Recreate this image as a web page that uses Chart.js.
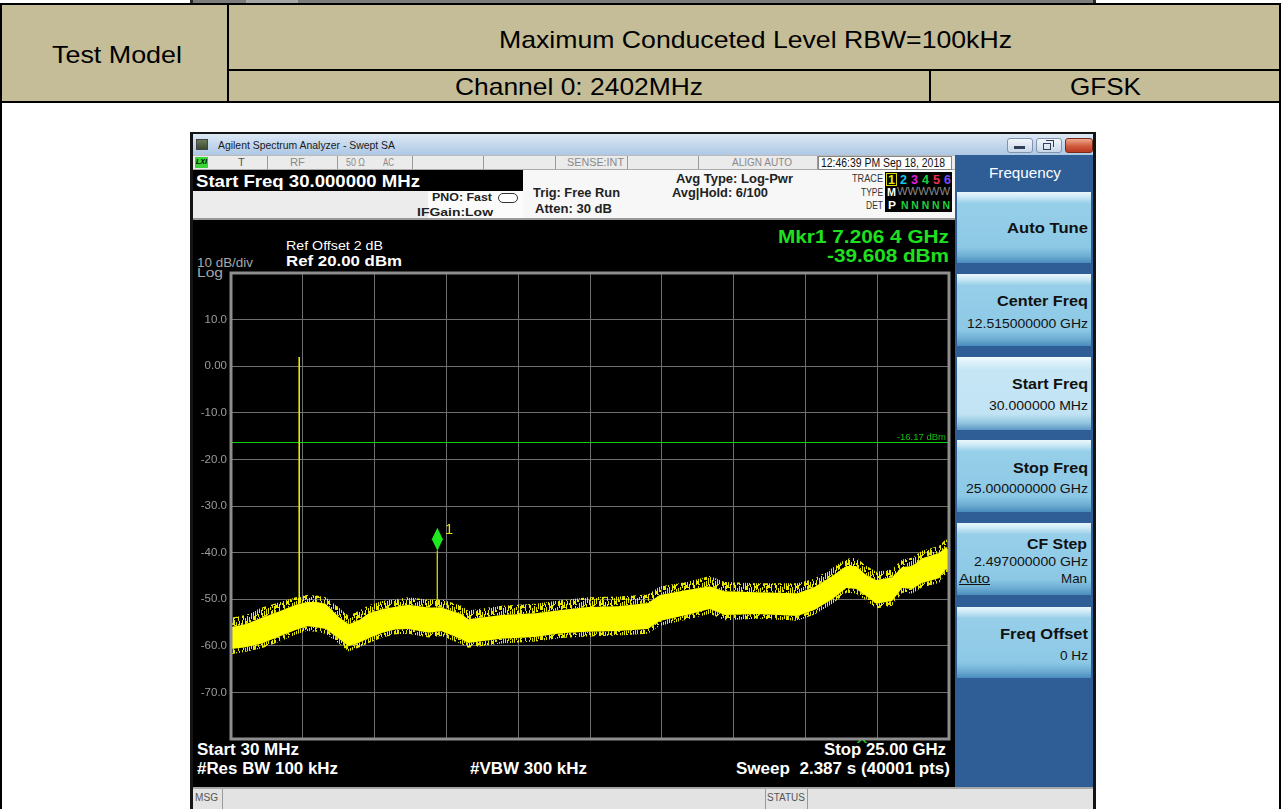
<!DOCTYPE html>
<html><head><meta charset="utf-8">
<script src="https://cdn.jsdelivr.net/npm/chart.js@4.4.1/dist/chart.umd.min.js"></script>
<style>
html,body{margin:0;padding:0;background:#fff;width:1281px;height:809px;overflow:hidden;font-family:"Liberation Sans",Arial,sans-serif;}
#page{position:relative;width:1281px;height:809px;overflow:hidden;}
.b{position:absolute;box-sizing:border-box;}
.t{position:absolute;white-space:pre;line-height:1;transform-origin:0 0;}
canvas{position:absolute;left:193px;top:220px;}
</style></head><body><div id="page"></div>
<canvas id="c" width="762" height="567" style="width:762px;height:567px"></canvas>
<script>
// ---------- DATA ----------
const startGHz = 0.03;
const stopGHz = 25.0;
const refLevelDbm = 20;
const bottomDbm = -80;
const dbPerDiv = 10;
const yTickLabels = ['', '10.0', '0.00', '-10.0', '-20.0', '-30.0', '-40.0', '-50.0', '-60.0', '-70.0', ''];
// noise-floor envelope of the yellow trace
const freqGHz = [0.03, 0.55, 1.10, 1.76, 2.28, 2.67, 3.00, 3.32, 3.78, 4.12, 4.50, 4.82, 5.30, 5.75, 6.20, 6.90, 7.35, 8.04, 8.28, 9.43, 10.61, 11.51, 12.45, 13.49, 14.53, 14.94, 15.88, 16.68, 17.20, 18.34, 19.73, 20.32, 20.94, 21.43, 21.77, 22.12, 22.47, 23.02, 23.37, 23.72, 24.06, 24.65, 24.90, 25.00];
// spike tops above the dense band
const peakDbm = [-54.0, -53.4, -51.8, -50.6, -49.6, -49.1, -49.2, -49.6, -51.8, -53.6, -52.4, -51.3, -50.4, -50.0, -49.6, -50.1, -50.0, -51.4, -52.4, -51.4, -51.0, -50.2, -49.6, -49.4, -49.0, -47.3, -46.3, -45.0, -46.3, -46.6, -46.6, -45.6, -43.3, -41.3, -41.1, -42.8, -44.1, -43.6, -41.5, -41.1, -39.6, -38.6, -37.1, -38.3];
// dense band top / bottom
const upperDbm = [-56.0, -55.3, -54.0, -52.5, -51.2, -50.6, -50.6, -51.0, -53.8, -55.4, -54.4, -53.0, -52.1, -51.6, -51.2, -51.8, -51.8, -53.2, -54.3, -53.4, -53.0, -52.3, -51.7, -51.5, -50.8, -49.1, -48.0, -47.2, -48.3, -48.5, -48.7, -47.4, -45.0, -42.9, -42.9, -44.8, -45.9, -45.3, -43.1, -42.9, -41.2, -40.1, -38.8, -39.7];
const lowerDbm = [-60.7, -60.3, -59.5, -57.9, -56.6, -55.8, -56.0, -56.4, -58.5, -60.1, -59.3, -58.4, -57.2, -56.5, -56.4, -57.2, -56.9, -58.6, -59.4, -58.5, -58.1, -57.3, -57.0, -56.8, -56.4, -54.7, -53.4, -52.1, -53.4, -53.2, -53.6, -52.3, -50.0, -47.6, -47.8, -49.3, -51.0, -50.4, -47.6, -47.8, -46.5, -45.5, -43.5, -44.4];
// spike bottoms below the dense band
const floorDbm = [-61.8, -61.3, -60.5, -59.0, -57.6, -56.8, -57.0, -57.4, -59.5, -61.2, -60.3, -59.4, -58.2, -57.5, -57.4, -58.2, -57.9, -59.6, -60.4, -59.5, -59.1, -58.3, -58.0, -57.8, -57.4, -55.7, -54.4, -53.1, -54.5, -54.2, -54.6, -53.3, -51.0, -48.6, -48.8, -50.3, -52.0, -51.4, -48.6, -48.8, -47.5, -46.5, -44.5, -45.4];
// carrier spike (channel 0)
const carrierGHz = [2.402, 2.402];
const carrierDbm = [2.0, -51.0];
// marker 1
const markerGHz = [7.2064, 7.2064];
const markerDbm = [-39.608, -51.5];
// display line
const limitDbm = -16.17;

// ---------- STATIC LAYOUT ----------
const page = document.getElementById('page');
function box(l, t, w, h, style) {
  const d = document.createElement('div');
  d.className = 'b';
  d.style.cssText = `left:${l}px;top:${t}px;width:${w}px;height:${h}px;` + (style || '');
  page.appendChild(d);
  return d;
}
const tan = '#c4bd97';
box(190, 0, 906, 4, 'background:#2a2a2a;');
box(193, 0, 900, 3, 'background:#7c7c7c;');
box(246, 0, 52, 3, 'background:#a6a6a6;');
box(0, 4, 1281, 99, 'background:' + tan + ';');
box(0, 3, 1281, 2, 'background:#000;');
box(228, 69, 1053, 2, 'background:#000;');
box(0, 101, 1281, 2, 'background:#000;');
box(227, 4, 2, 99, 'background:#000;');
box(929, 70, 2, 33, 'background:#000;');
box(0, 3, 2, 806, 'background:#000;');
box(1279, 3, 2, 806, 'background:#000;');

box(190, 132, 906, 677, 'background:#141414;');
box(193, 134, 900, 21, 'background:linear-gradient(#dde9f5,#c2d6ec 55%,#aec8e4);');
box(196, 139, 12, 11, 'background:linear-gradient(#6a7a5a,#3c4a30);border:1px solid #444;');
box(1007, 138, 26, 15, 'background:linear-gradient(#f2f6fb,#c9d7e8);border:1px solid #7f93ad;border-radius:3px;');
box(1014, 146, 11, 3, 'background:#2f3f55;');
box(1036, 138, 26, 15, 'background:linear-gradient(#f2f6fb,#c9d7e8);border:1px solid #7f93ad;border-radius:3px;');
box(1043, 143, 8, 7, 'border:1px solid #2f3f55;');
box(1046, 140, 8, 7, 'border:1px solid #2f3f55;border-bottom:none;border-left:none;');
box(1065, 138, 28, 15, 'background:linear-gradient(#eea88f,#d05a3c 55%,#b83a22);border:1px solid #7a2a18;border-radius:3px;');
box(193, 155, 762, 15, 'background:#ebebeb;border-top:1px solid #bbb;border-bottom:1px solid #aaa;');
[267, 337, 412, 483, 555, 627, 698, 817].forEach(x => box(x, 156, 1, 13, 'background:#9a9a9a;'));
box(818, 156, 134, 14, 'background:#fdfdfd;border:1px solid #888;');
box(195, 157, 13, 11, 'background:#3ad33a;');
box(193, 170, 762, 50, 'background:#f7f7f7;');
box(193, 191, 235, 27, 'background:#ececec;');
box(428, 191, 95, 27, 'background:#fbfbfb;');
box(193, 170, 330, 21, 'background:#000;');
box(498, 193, 20, 10, 'border:1.5px solid #333;border-radius:5px;background:#fff;');
box(885, 172, 67, 40, 'background:#000;');
box(886, 173, 11, 13, 'border:1px solid #d8d800;');
box(193, 218, 762, 2, 'background:#9a9a9a;');
box(193, 220, 762, 567, 'background:#000;');
box(955, 155, 138, 632, 'background:#2f5e96;');
const btnNormal = 'background:linear-gradient(#eaf7fd 0%,#cbe9f6 7%,#97cfe9 16%,#8cc8e5 78%,#6eaed3 90%,#4a8dbd 100%);';
const btnSel = 'background:linear-gradient(#f3fbfe 0%,#dbf0f9 8%,#c6e6f5 18%,#c1e3f4 78%,#94c6e0 90%,#5d97c2 100%);';
[[192, 71, false], [274, 72, false], [357, 73, true], [440, 72, false], [523, 72, false], [607, 71, false]].forEach(b => {
  box(957, b[0], 134, b[1], b[2] ? btnSel : btnNormal);
});
box(193, 787, 900, 22, 'background:#e3e3e3;border-top:2px solid #a8a8a8;');
[222, 765, 807].forEach(x => box(x, 789, 1, 20, 'background:#9a9a9a;'));

// ---------- TEXT ----------
const texts = [
  ['Test Model', 52, 55, 24, false, '#000', 130, 'l'],
  ['Maximum Conduceted Level RBW=100kHz', 499, 40, 24, false, '#000', 513, 'l'],
  ['Channel 0: 2402MHz', 455, 87, 24, false, '#000', 248, 'l'],
  ['GFSK', 1070, 87, 24, false, '#000', 71, 'l'],
  ['Agilent Spectrum Analyzer - Swept SA', 218, 145, 11, false, '#1a1a1a', 177, 'l'],
  ['LXI', 196, 162, 8, true, '#000', 11, 'l', 'font-style:italic;'],
  ['T', 238, 162, 11, false, '#555', null, 'l'],
  ['RF', 290, 162, 11, false, '#8a8a8a', 15, 'l'],
  ['50 Ω', 346, 162, 11, false, '#8a8a8a', 19, 'l'],
  ['AC', 383, 162, 11, false, '#8a8a8a', 11, 'l'],
  ['SENSE:INT', 567, 162, 11, false, '#8a8a8a', 57, 'l'],
  ['ALIGN AUTO', 732, 162, 11, false, '#8a8a8a', 60, 'l'],
  ['12:46:39 PM Sep 18, 2018', 821, 163, 12, false, '#111', 124, 'l'],
  ['Start Freq 30.000000 MHz', 196, 181, 17, true, '#fff', 224, 'l'],
  ['PNO: Fast', 432, 197, 11, true, '#222', 60, 'l'],
  ['IFGain:Low', 417, 212, 11, true, '#222', 76, 'l'],
  ['Trig: Free Run', 533, 193, 12, true, '#222', 87, 'l'],
  ['Atten: 30 dB', 535, 209, 12, true, '#222', 77, 'l'],
  ['Avg Type: Log-Pwr', 676, 179, 12, true, '#222', 117, 'l'],
  ['Avg|Hold: 6/100', 672, 193, 12, true, '#222', 96, 'l'],
  ['TRACE', 883, 178, 11, false, '#333', 31, 'r'],
  ['TYPE', 883, 192, 11, false, '#333', 22, 'r'],
  ['DET', 883, 205, 11, false, '#333', 17, 'r'],
  ['1', 888, 180, 12, true, '#e8e800', 7, 'l'],
  ['2', 900, 180, 12, true, '#10c8e8', 7, 'l'],
  ['3', 911, 180, 12, true, '#e020e0', 7, 'l'],
  ['4', 922, 180, 12, true, '#20d040', 7, 'l'],
  ['5', 933, 180, 12, true, '#f03050', 7, 'l'],
  ['6', 944, 180, 12, true, '#7a4aff', 7, 'l'],
  ['M', 887, 192, 11, true, '#fff', 9, 'l'],
  ['WWWWW', 897, 192, 10, false, '#8a8a8a', 53, 'l'],
  ['P', 888, 205, 11, true, '#fff', 8, 'l'],
  ['N N N N N', 901, 205, 11, true, '#20d040', 49, 'l'],
  ['Ref Offset 2 dB', 286, 245, 13, false, '#fff', 97, 'l'],
  ['Ref 20.00 dBm', 286, 260, 15, true, '#fff', 116, 'l'],
  ['10 dB/div', 197, 262, 13, false, '#a8a8a8', 56, 'l'],
  ['Log', 197, 272, 13, false, '#a8a8a8', 26, 'l'],
  ['Mkr1 7.206 4 GHz', 949, 236, 19, true, '#1fe01f', 171, 'r'],
  ['-39.608 dBm', 949, 255, 19, true, '#1fe01f', 122, 'r'],
  ['Start 30 MHz', 197, 750, 16, true, '#fff', 102, 'l'],
  ['#Res BW 100 kHz', 197, 769, 16, true, '#fff', 141, 'l'],
  ['#VBW 300 kHz', 470, 769, 16, true, '#fff', 117, 'l'],
  ['Stop 25.00 GHz', 946, 750, 16, true, '#fff', 122, 'r'],
  ['Sweep  2.387 s (40001 pts)', 950, 769, 16, true, '#fff', 214, 'r'],
  ['^', 857, 743, 12, false, '#1fe01f', 10, 'l'],
  ['Frequency', 1025, 173, 14, false, '#fff', 72, 'c'],
  ['Auto Tune', 1088, 227, 15, true, '#111', 81, 'r'],
  ['Center Freq', 1088, 300, 15, true, '#111', 91, 'r'],
  ['12.515000000 GHz', 1088, 323, 13, false, '#111', 121, 'r'],
  ['Start Freq', 1088, 383, 15, true, '#111', 76, 'r'],
  ['30.000000 MHz', 1088, 405, 13, false, '#111', 99, 'r'],
  ['Stop Freq', 1088, 467, 15, true, '#111', 75, 'r'],
  ['25.000000000 GHz', 1088, 488, 13, false, '#111', 122, 'r'],
  ['CF Step', 1087, 543, 15, true, '#111', 60, 'r'],
  ['2.497000000 GHz', 1088, 561, 13, false, '#111', 114, 'r'],
  ['Auto', 959, 578, 13, false, '#111', 31, 'l', 'text-decoration:underline;'],
  ['Man', 1087, 578, 13, false, '#111', 26, 'r'],
  ['Freq Offset', 1088, 633, 15, true, '#111', 88, 'r'],
  ['0 Hz', 1088, 655, 13, false, '#111', 28, 'r'],
  ['MSG', 195, 798, 10, false, '#555', 23, 'l'],
  ['STATUS', 767, 798, 10, false, '#555', 38, 'l']
];
texts.forEach(a => {
  const [s, x, cy, size, bold, color, tw, align, extra] = a;
  const e = document.createElement('div');
  e.className = 't';
  e.textContent = s;
  e.style.cssText = `font-size:${size}px;font-weight:${bold ? 700 : 400};color:${color};top:${cy - size * 0.5}px;left:0px;` + (extra || '');
  page.appendChild(e);
  const nw = e.getBoundingClientRect().width;
  const w = tw || nw;
  if (tw) e.style.transform = `scaleX(${tw / nw})`;
  const left = align === 'l' ? x : align === 'r' ? x - w : x - w / 2;
  e.style.left = left + 'px';
});

// ---------- CHART ----------
const gridGHz = [];
for (let i = 0; i <= 10; i++) gridGHz.push(startGHz + i * (stopGHz - startGHz) / 10);

// texture for the ragged fringe of the noise (styling only): short vertical hairlines of varying length
function spikeTexture() {
  const len = '93617402850739152608491736058294716035829'; // hairline lengths per column
  const off = '05274163052816470392615847203615948271036'; // vertical offsets per column
  const H = 10;
  const pc = document.createElement('canvas');
  pc.width = len.length; pc.height = H;
  const g = pc.getContext('2d');
  g.fillStyle = 'rgba(255,255,0,0.9)';
  for (let i = 0; i < len.length; i++) {
    const L = +len[i], o = +off[i];
    for (let k = 0; k < L; k++) g.fillRect(i, (o + k) % H, 1, 1);
  }
  return g.createPattern(pc, 'repeat');
}
const fringe = spikeTexture();

const overlay = {
  id: 'overlay',
  beforeDatasetsDraw(chart) {
    const { ctx, chartArea: a, scales: { y } } = chart;
    const py = Math.round(y.getPixelForValue(limitDbm)) + 0.5;
    ctx.save();
    ctx.strokeStyle = '#10d010';
    ctx.lineWidth = 1;
    ctx.beginPath(); ctx.moveTo(a.left - 1, py); ctx.lineTo(a.right, py); ctx.stroke();
    ctx.fillStyle = '#10c010';
    ctx.font = '9.5px "Liberation Sans"';
    ctx.textAlign = 'right'; ctx.textBaseline = 'alphabetic';
    ctx.fillText(limitDbm.toFixed(2) + ' dBm', a.right - 3, py - 3);
    ctx.restore();
  },
  afterDatasetsDraw(chart) {
    const { ctx, scales: { x, y } } = chart;
    const mx = x.getPixelForValue(markerGHz[0]);
    const my = y.getPixelForValue(markerDbm[0]);
    ctx.save();
    ctx.fillStyle = '#1ee81e';
    ctx.beginPath();
    ctx.moveTo(mx, my - 23); ctx.lineTo(mx + 5.5, my - 11.5); ctx.lineTo(mx, my); ctx.lineTo(mx - 5.5, my - 11.5);
    ctx.closePath(); ctx.fill();
    ctx.fillStyle = '#e8e800';
    ctx.font = '14px "Liberation Sans"';
    ctx.textAlign = 'left'; ctx.textBaseline = 'middle';
    ctx.fillText('1', mx + 8, my - 21);
    ctx.restore();
  },
  afterDraw(chart) {
    const { ctx, chartArea: a } = chart;
    ctx.save();
    ctx.strokeStyle = '#8e8e8e';
    ctx.lineWidth = 3;
    ctx.strokeRect(a.left, a.top, a.right - a.left, a.bottom - a.top);
    ctx.restore();
  }
};

const pts = arr => freqGHz.map((f, i) => ({ x: f, y: arr[i] }));
new Chart(document.getElementById('c'), {
  type: 'line',
  data: {
    datasets: [
      { data: pts(floorDbm), borderWidth: 0, borderColor: 'rgba(0,0,0,0)', pointRadius: 0, fill: false, tension: 0 },
      { data: pts(lowerDbm), borderWidth: 0, borderColor: 'rgba(0,0,0,0)', pointRadius: 0, fill: 0, backgroundColor: fringe, tension: 0 },
      { data: pts(upperDbm), borderWidth: 0, borderColor: 'rgba(0,0,0,0)', pointRadius: 0, fill: 1, backgroundColor: '#ffff00', tension: 0 },
      { data: pts(peakDbm), borderWidth: 0, borderColor: 'rgba(0,0,0,0)', pointRadius: 0, fill: 2, backgroundColor: fringe, tension: 0 },
      { data: carrierGHz.map((f, i) => ({ x: f, y: carrierDbm[i] })), borderColor: '#f2f200', borderWidth: 1.5, pointRadius: 0, fill: false },
      { data: markerGHz.map((f, i) => ({ x: f, y: markerDbm[i] })), borderColor: '#cccc00', borderWidth: 1, pointRadius: 0, fill: false }
    ]
  },
  options: {
    responsive: false, animation: false, devicePixelRatio: 1,
    layout: { padding: { top: 53, bottom: 48, left: 0, right: 6 } },
    plugins: { legend: { display: false }, tooltip: { enabled: false } },
    scales: {
      x: {
        type: 'linear', min: startGHz, max: stopGHz,
        grid: { color: '#707070', lineWidth: 1, drawTicks: false },
        border: { display: false },
        ticks: { display: false },
        afterBuildTicks: s => { s.ticks = gridGHz.map(v => ({ value: v })); },
        afterFit: s => { s.height = 0; }
      },
      y: {
        type: 'linear', min: bottomDbm, max: refLevelDbm,
        grid: { color: '#707070', lineWidth: 1, drawTicks: false },
        border: { display: false },
        ticks: {
          stepSize: dbPerDiv, padding: 4, color: '#9c9c9c',
          font: { family: 'Liberation Sans', size: 11.5 },
          callback: (v) => yTickLabels[Math.round((refLevelDbm - v) / dbPerDiv)]
        },
        afterFit: s => { s.width = 38; }
      }
    }
  },
  plugins: [overlay]
});
</script></body></html>
